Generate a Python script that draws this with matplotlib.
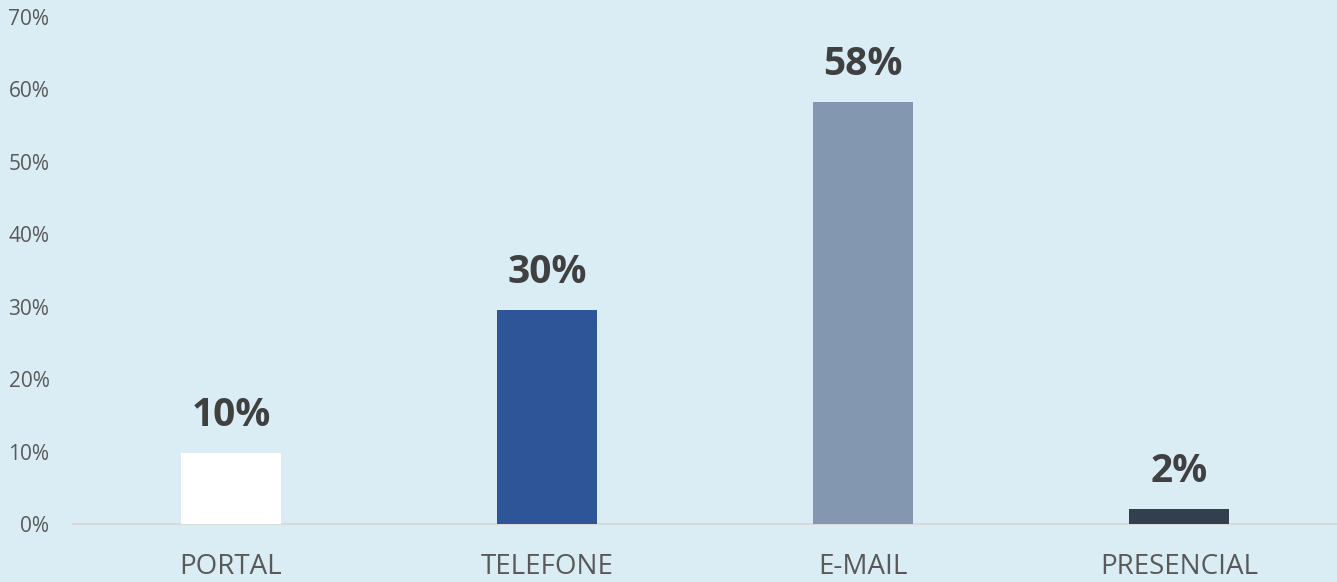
import matplotlib.pyplot as plt
from matplotlib.ticker import FuncFormatter

# values (percent)
categories = ['PORTAL', 'TELEFONE', 'E-MAIL', 'PRESENCIAL']
values = [9.8, 29.6, 58.2, 2.1]
bar_colors = ['#FFFFFF', '#2E5597', '#8497B0', '#323F4F']
yticks = [0, 10, 20, 30, 40, 50, 60, 70]

bg = '#DAEDF5'
plt.rcParams['font.family'] = ['Open Sans', 'DejaVu Sans']

fig = plt.figure(figsize=(13.37, 5.82), dpi=100, facecolor=bg)
ax = fig.add_axes([73 / 1337, 58 / 582, 1 - 73 / 1337, (524 - 17) / 582])
ax.set_facecolor(bg)

x = range(len(categories))
bars = ax.bar(x, values, width=0.316, color=bar_colors, zorder=3)

# value labels above bars
for b, v in zip(bars, values):
    ax.annotate(f'{v:.0f}%', (b.get_x() + b.get_width() / 2, b.get_height()),
                xytext=(0, 13), textcoords='offset points',
                ha='center', va='bottom', fontsize=28, fontweight='bold',
                color='#404040')

ax.set_xlim(-0.5, len(categories) - 0.5)
ax.set_ylim(0, 70)
ax.set_yticks(yticks)
ax.yaxis.set_major_formatter(FuncFormatter(lambda v, p: f'{v:.0f}%'))
ax.set_xticks(list(x))
ax.set_xticklabels(categories)

for s in ['top', 'right', 'left']:
    ax.spines[s].set_visible(False)
ax.spines['bottom'].set_color('#D9D9D9')
ax.spines['bottom'].set_linewidth(1.5)

ax.tick_params(axis='y', length=0, labelsize=15, labelcolor='#595959', pad=17)
ax.tick_params(axis='x', length=0, labelsize=20, labelcolor='#595959', pad=21)

fig.savefig('out.png', dpi=100, facecolor=bg)
